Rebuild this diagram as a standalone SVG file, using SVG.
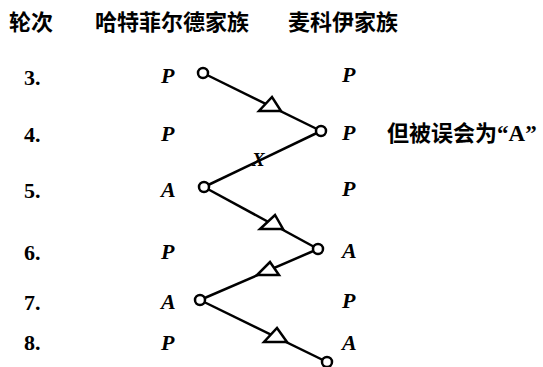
<svg xmlns="http://www.w3.org/2000/svg" width="543" height="367" viewBox="0 0 543 367">
  <style>
    .hdr { font-family: "Noto Sans CJK SC", sans-serif; font-size: 22px; font-weight: bold; fill: #000; }
    .num { font-family: "Liberation Serif", serif; font-weight: bold; font-size: 22px; fill: #000; }
    .lbl { font-family: "Liberation Serif", serif; font-weight: bold; font-style: italic; font-size: 22px; fill: #000; }
    .edge { stroke: #000; stroke-width: 2.5; fill: none; }
    .node { stroke: #000; stroke-width: 2.5; fill: #fff; }
    .tri { stroke: #000; stroke-width: 2.5; fill: #fff; stroke-linejoin: miter; }
    .note { font-family: "Noto Sans CJK SC", sans-serif; font-size: 22px; font-weight: bold; fill: #000; }
  </style>

  <!-- column headers -->
  <g id="headers">
    <text class="hdr" x="9" y="30">轮次</text>
    <text class="hdr" x="95" y="30">哈特菲尔德家族</text>
    <text class="hdr" x="288" y="30">麦科伊家族</text>
  </g>

  <!-- round numbers -->
  <g id="rounds">
    <text class="num" x="24" y="85">3.</text>
    <text class="num" x="24" y="142">4.</text>
    <text class="num" x="24" y="198">5.</text>
    <text class="num" x="24" y="260">6.</text>
    <text class="num" x="24" y="310">7.</text>
    <text class="num" x="24" y="350">8.</text>
  </g>

  <!-- Hatfield moves -->
  <g id="hatfield">
    <text class="lbl" x="161" y="83">P</text>
    <text class="lbl" x="161" y="141">P</text>
    <text class="lbl" x="161" y="197">A</text>
    <text class="lbl" x="161" y="259">P</text>
    <text class="lbl" x="161" y="309">A</text>
    <text class="lbl" x="161" y="350">P</text>
  </g>

  <!-- McCoy moves -->
  <g id="mccoy">
    <text class="lbl" x="342" y="82">P</text>
    <text class="lbl" x="342" y="140">P</text>
    <text class="lbl" x="342" y="196">P</text>
    <text class="lbl" x="342" y="258">A</text>
    <text class="lbl" x="342" y="308">P</text>
    <text class="lbl" x="342" y="350">A</text>
  </g>

  <!-- zigzag connectors between the two families -->
  <g id="connectors">
    <line class="edge" x1="203" y1="73" x2="321" y2="131"/>
    <line class="edge" x1="321" y1="131" x2="204" y2="187"/>
    <line class="edge" x1="204" y1="187" x2="318" y2="249"/>
    <line class="edge" x1="318" y1="249" x2="200" y2="300"/>
    <line class="edge" x1="200" y1="300" x2="327" y2="362"/>
    <polygon class="tri" points="259,111 281,111 272,97"/>
    <polygon class="tri" points="260,229 283,229 275,215"/>
    <polygon class="tri" points="257,275 279,275 270,262"/>
    <polygon class="tri" points="264,342 287,342 277,328"/>
    <text x="252" y="166" font-family="Liberation Serif, serif" font-style="italic" font-weight="bold" font-size="19" fill="#000">X</text>
  </g>

  <!-- turn points -->
  <g id="n3"><circle class="node" cx="203" cy="73" r="5"/></g>
  <g id="n4"><circle class="node" cx="321" cy="131" r="5"/></g>
  <g id="n5"><circle class="node" cx="204" cy="187" r="5"/></g>
  <g id="n6"><circle class="node" cx="318" cy="249" r="5"/></g>
  <g id="n7"><circle class="node" cx="200" cy="300" r="5"/></g>
  <g id="n8"><circle class="node" cx="327" cy="362" r="5"/></g>

  <!-- side remark on round 4 -->
  <g id="remark">
    <text class="note" x="387" y="141">但被误会为<tspan font-family="Liberation Serif, serif" font-size="23">“A”</tspan></text>
  </g>
</svg>
